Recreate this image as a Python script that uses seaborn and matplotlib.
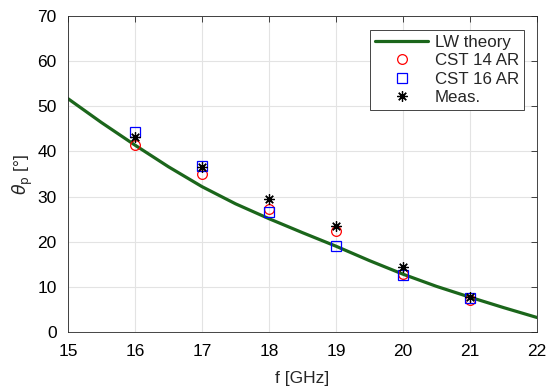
import matplotlib
matplotlib.use("Agg")
import matplotlib.pyplot as plt
import seaborn as sns
import numpy as np

# Theory curve
f_theory = [15.0, 15.5, 16.0, 16.5, 17.0, 17.5, 18.0, 18.5, 19.0, 19.5, 20.0, 20.5, 21.0, 21.5, 22.0]
theta_theory = [51.7, 46.4, 41.4, 36.6, 32.2, 28.4, 25.1, 22.0, 19.0, 15.8, 12.8, 10.1, 7.7, 5.4, 3.2]

f_pts = [16, 17, 18, 19, 20, 21]
cst14 = [41.4, 35.0, 27.2, 22.4, 12.8, 7.1]
cst16 = [44.2, 36.8, 26.6, 19.0, 12.6, 7.5]
meas = [43.2, 36.6, 29.4, 23.5, 14.4, 7.8]

x_ticks = [15, 16, 17, 18, 19, 20, 21, 22]
y_ticks = [0, 10, 20, 30, 40, 50, 60, 70]

sns.set_style("whitegrid")
plt.rcParams['font.family'] = ['Liberation Sans', 'DejaVu Sans']
plt.rcParams['mathtext.fontset'] = 'dejavusans'

fig = plt.figure(figsize=(5.48, 3.91), dpi=100)
ax = fig.add_axes([0.124, 0.151, 0.856, 0.808])

sns.lineplot(x=f_theory, y=theta_theory, ax=ax, color='#1b661b', linewidth=2.3,
             label='LW theory', sort=False)
sns.lineplot(x=f_pts, y=cst14, ax=ax, linestyle='', marker='o', markersize=7,
             markerfacecolor='none', markeredgecolor='#ff0000', markeredgewidth=0.9,
             color='#ff0000', label='CST 14 AR')
sns.lineplot(x=f_pts, y=cst16, ax=ax, linestyle='', marker='s', markersize=6.5,
             markerfacecolor='none', markeredgecolor='#0000ff', markeredgewidth=0.9,
             color='#0000ff', label='CST 16 AR')
sns.lineplot(x=f_pts, y=meas, ax=ax, linestyle='', marker=(8, 2, 0), markersize=7.5,
             markeredgecolor='black', markeredgewidth=0.9, color='black', label='Meas.')

ax.set_xlim(15, 22)
ax.set_ylim(0, 70)
ax.set_xticks(x_ticks)
ax.set_yticks(y_ticks)
ax.tick_params(axis='both', which='both', direction='in', length=4, width=0.6,
               colors='#262626', labelsize=12.5, top=True, right=True)
ax.tick_params(axis='x', pad=9)
ax.tick_params(axis='y', pad=8)
ax.tick_params(axis='both', labelcolor='black')
ax.grid(True, color='#e3e3e3', linewidth=0.8)
for s in ax.spines.values():
    s.set_visible(True)
    s.set_color('#262626')
    s.set_linewidth(0.6)

ax.set_xlabel('f [GHz]', fontsize=12.5, labelpad=8)
ax.set_ylabel(r'$\theta_{\rm p}$ [°]', fontsize=12.5, labelpad=2)

leg = ax.legend(loc='upper right', bbox_to_anchor=(0.972, 0.956), fontsize=12.2,
                frameon=True, fancybox=False, framealpha=1, edgecolor='#262626',
                borderpad=0.3, labelspacing=0.2, handlelength=3.1, handletextpad=0.4,
                borderaxespad=0)
leg.get_frame().set_linewidth(0.6)

fig.savefig('out.png', dpi=100)
